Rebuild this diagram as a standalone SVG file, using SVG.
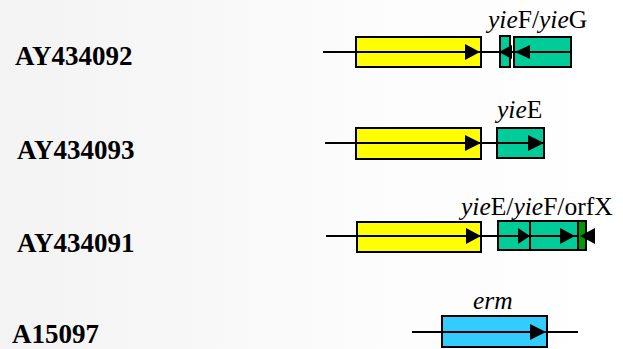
<svg xmlns="http://www.w3.org/2000/svg" width="623" height="349" viewBox="0 0 623 349">
<defs>
<linearGradient id="bg" x1="0" y1="0" x2="1" y2="0">
<stop offset="0" stop-color="#f3f3f3"/>
<stop offset="0.6" stop-color="#fcfcfc"/>
<stop offset="1" stop-color="#ffffff"/>
</linearGradient>
<style>
.acc{font-family:"Liberation Serif","Times New Roman",serif;font-weight:bold;font-size:27px;fill:#000}
.gl{font-family:"Liberation Serif","Times New Roman",serif;font-size:25.5px;fill:#000}
.yel{fill:#ffff00;stroke:#000;stroke-width:2}
.grn{fill:#00cc99;stroke:#000;stroke-width:2}
.dgr{fill:#009900;stroke:#000;stroke-width:2}
.blu{fill:#33ccff;stroke:#000;stroke-width:2}
.ln{stroke:#000;stroke-width:2;fill:none}
.ah{fill:#000}
</style>
</defs>
<rect x="0" y="0" width="623" height="349" fill="url(#bg)"/>

<g id="labels">
<text class="acc" x="15" y="65">AY434092</text>
<text class="acc" x="17" y="159">AY434093</text>
<text class="acc" x="17" y="252">AY434091</text>
<text class="acc" x="12" y="343">A15097</text>
</g>

<g id="row1">
<rect class="yel" x="356" y="37" width="125" height="30"/>
<rect class="grn" x="500" y="36" width="10" height="31"/>
<rect class="grn" x="514" y="37" width="57" height="30"/>
<text class="gl" x="488" y="28"><tspan font-style="italic">yie</tspan>F/<tspan font-style="italic">yie</tspan>G</text>
</g>

<g id="row2">
<rect class="yel" x="356" y="128" width="125" height="31"/>
<rect class="grn" x="497" y="128" width="47" height="30"/>
<text class="gl" x="497" y="118"><tspan font-style="italic">yie</tspan>E</text>
</g>

<g id="row3">
<rect class="yel" x="357" y="222" width="124" height="30"/>
<rect class="grn" x="498" y="221" width="32" height="29"/>
<rect class="grn" x="530" y="221" width="48" height="29"/>
<rect class="dgr" x="578" y="221" width="8" height="29"/>
<text class="gl" x="461" y="215"><tspan font-style="italic">yie</tspan>E/<tspan font-style="italic">yie</tspan>F/orfX</text>
</g>

<g id="row4">
<rect class="blu" x="442" y="316" width="105" height="31"/>
<text class="gl" x="473" y="309" font-style="italic">erm</text>
</g>

<g id="connectors">
<line class="ln" x1="323" y1="52" x2="570" y2="52"/>
<polygon class="ah" points="480,52 465,44 465,60"/>
<polygon class="ah" points="499,52 512,45 512,59"/>
<polygon class="ah" points="515,52 530,45 530,59"/>

<line class="ln" x1="325" y1="143" x2="544" y2="143"/>
<polygon class="ah" points="481,143 465,135 465,151"/>
<polygon class="ah" points="544,143 528,135 528,151"/>

<line class="ln" x1="326" y1="236" x2="578" y2="236"/>
<polygon class="ah" points="481,236 466,228 466,244"/>
<polygon class="ah" points="530,236 518,228 518,244"/>
<polygon class="ah" points="575,236 560,228 560,244"/>
<polygon class="ah" points="580,236 595,228 595,244"/>

<line class="ln" x1="412" y1="332" x2="578" y2="332"/>
<polygon class="ah" points="546,332 530,324 530,340"/>
</g>
</svg>
